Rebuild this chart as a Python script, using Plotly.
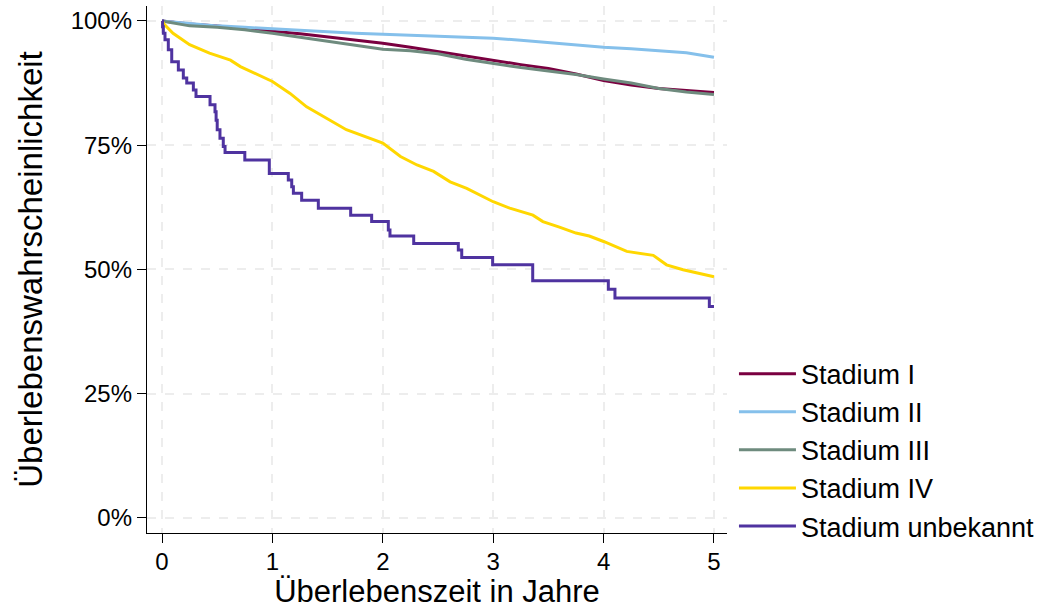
import plotly.graph_objects as go

# ---- data ----
names = ["Stadium I", "Stadium II", "Stadium III", "Stadium IV", "Stadium unbekannt"]
colors = ["#7A0040", "#85C0EB", "#6E8B7E", "#FFD700", "#4F33A0"]

t_grid = [0, 0.25, 0.5, 0.75, 1, 1.25, 1.5, 1.75, 2, 2.25, 2.5, 2.75, 3,
          3.25, 3.5, 3.75, 4, 4.25, 4.5, 4.75, 5]
s_stage1 = [100, 99.4, 99.0, 98.4, 97.9, 97.4, 96.8, 96.2, 95.5, 94.7, 93.8, 92.9, 92.0,
            91.2, 90.4, 89.3, 88.0, 87.1, 86.4, 86.0, 85.6]
s_stage2 = [100, 99.5, 99.0, 98.7, 98.4, 98.1, 97.7, 97.5, 97.3, 97.1, 96.8, 96.7, 96.5,
            96.1, 95.6, 95.1, 94.7, 94.4, 94.0, 93.6, 92.7]
s_stage3 = [100, 99.0, 98.7, 98.2, 97.5, 96.7, 95.8, 95.0, 94.3, 94.0, 93.4, 92.3, 91.4,
            90.6, 89.9, 89.2, 88.3, 87.5, 86.4, 85.7, 85.2]

t_stage4 = [0, 0.02, 0.10, 0.25, 0.43, 0.62, 0.71, 1.0, 1.16, 1.31, 1.49, 1.67, 2.0,
            2.16, 2.31, 2.46, 2.61, 2.76, 3.0, 3.15, 3.36, 3.45, 3.60, 3.75, 3.87,
            4.0, 4.21, 4.45, 4.57, 4.72, 5.0]
s_stage4 = [100, 99.3, 97.5, 95.2, 93.5, 92.1, 90.8, 87.8, 85.4, 82.7, 80.4, 78.1, 75.4,
            72.7, 71.0, 69.7, 67.6, 66.3, 63.6, 62.3, 60.9, 59.6, 58.5, 57.3, 56.7,
            55.6, 53.6, 52.8, 50.9, 49.9, 48.5]

t_unk = [0, 0.005, 0.012, 0.027, 0.057, 0.088, 0.148, 0.193, 0.224, 0.284, 0.308,
         0.435, 0.48, 0.49, 0.50, 0.525, 0.555, 0.571, 0.75, 0.972, 1.144, 1.175,
         1.19, 1.265, 1.416, 1.709, 1.899, 2.05, 2.065, 2.28, 2.684, 2.715, 2.995,
         3.358, 4.043, 4.103, 4.958, 5.0]
s_unk = [100, 98.8, 97.5, 96.2, 94.2, 91.8, 90.1, 88.5, 87.5, 86.1, 84.8,
         83.1, 81.7, 80.0, 78.1, 76.4, 74.7, 73.5, 72.0, 69.3, 68.0, 66.6,
         65.3, 63.9, 62.3, 60.9, 59.6, 57.9, 56.7, 55.2, 53.9, 52.4, 50.9,
         47.7, 46.0, 44.2, 42.5, 42.5]

x_ticks = [0, 1, 2, 3, 4, 5]
y_ticks = [0, 25, 50, 75, 100]
y_ticklabels = ["0%", "25%", "50%", "75%", "100%"]

series = [
    (t_grid, s_stage1, "linear"),
    (t_grid, s_stage2, "linear"),
    (t_grid, s_stage3, "linear"),
    (t_stage4, s_stage4, "linear"),
    (t_unk, s_unk, "hv"),
]

fig = go.Figure()
for (x, y, shape), name, col in zip(series, names, colors):
    fig.add_trace(go.Scatter(x=x, y=y, mode="lines", name=name,
                             line=dict(color=col, width=3, shape=shape)))

font_family = "Liberation Sans, Arial, sans-serif"
fig.update_layout(
    width=1055, height=609,
    margin=dict(l=147, r=328, t=6, b=76, autoexpand=False),
    paper_bgcolor="white", plot_bgcolor="white",
    font=dict(family=font_family, color="black"),
    showlegend=True,
    legend=dict(x=1.012, xanchor="left", y=0.348, yanchor="top",
                font=dict(size=27, color="black"), itemwidth=57,
                tracegroupgap=0, bgcolor="rgba(0,0,0,0)"),
)
fig.update_xaxes(
    range=[-0.136, 5.118], tickvals=x_ticks, ticks="outside", ticklen=9,
    tickwidth=1.3, tickcolor="black", showline=True, linecolor="black", linewidth=1.3,
    showgrid=True, gridcolor="#EDEDED", griddash="dash", gridwidth=1.5,
    zeroline=False, tickfont=dict(size=24), automargin=False, ticklabelstandoff=-2,
    title=dict(text="Überlebenszeit in Jahre", font=dict(size=31), standoff=8),
)
fig.update_yaxes(
    range=[-3.08, 103.0], tickvals=y_ticks, ticktext=y_ticklabels, ticks="outside",
    ticklen=9, tickwidth=1.3, tickcolor="black", showline=True, linecolor="black",
    linewidth=1.3, showgrid=True, gridcolor="#EDEDED", griddash="dash", gridwidth=1.5,
    zeroline=False, tickfont=dict(size=24), automargin=False,
    title=dict(text="Überlebenswahrscheinlichkeit", font=dict(size=33), standoff=18),
)

fig.write_html("out.html", config={"displayModeBar": False},
               post_script="document.body.style.margin='0px';")
